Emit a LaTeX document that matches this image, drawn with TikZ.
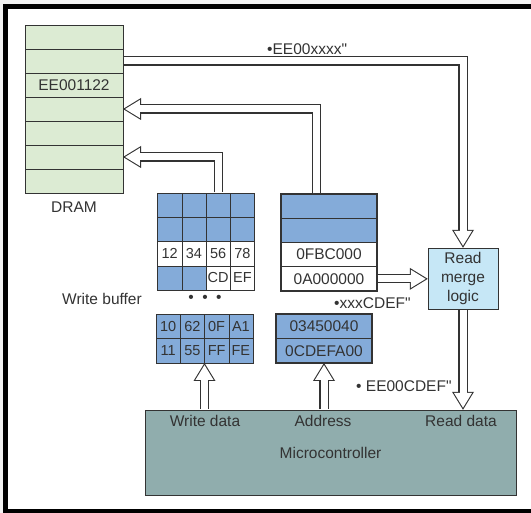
\documentclass[tikz,border=0pt]{standalone}
\usepackage{fontspec}
\setmainfont{Liberation Sans}
\usetikzlibrary{positioning,arrows.meta}

\definecolor{dramgreen}{HTML}{DCEBD3}
\definecolor{cellblue}{HTML}{84ABD9}
\definecolor{mergeblue}{HTML}{C6E7F6}
\definecolor{mcugray}{HTML}{90ADAD}
\definecolor{ink}{HTML}{333333}

\begin{document}
\begin{tikzpicture}[x=1pt, y=-1pt, node distance=0pt,
  every node/.style={text=ink, font=\fontsize{15.5}{18}\selectfont},
  row/.style={draw=ink, fill=dramgreen, minimum width=98pt, minimum height=24pt, inner sep=0pt, outer sep=0pt},
  cell/.style={draw=ink, fill=cellblue, minimum width=24.25pt, minimum height=24.25pt, inner sep=0pt, outer sep=0pt, font=\fontsize{14.5}{17}\selectfont},
  addr/.style={draw=ink, line width=1.3pt, fill=cellblue, minimum width=96pt, minimum height=24.25pt, inner sep=0pt, outer sep=0pt},
  lbl/.style={inner sep=0pt},
  % hollow double arrow: dark outline first, white core on top
  bus/.style={draw=ink, line width=9.2pt, shorten <=0.6pt,
    -{Triangle[length=18pt, width=22pt, line width=0pt]},
    postaction={draw=white, line width=7pt, shorten <=0.6pt, shorten >=2.1pt,
      -{Triangle[length=14.8pt, width=18.1pt, line width=0pt]}}}
]
\useasboundingbox (0,0) rectangle (531,513);
\clip (0,0) rectangle (531,513);
\fill[gray!10] (0,0) rectangle (531,513);
\draw[line width=5.5pt, fill=white] (5.5,6.5) rectangle (545,511.5);

% DRAM
\node[row] (dram1) at (74,37) {};
\node[row, below=of dram1] (dram2) {};
\node[row, below=of dram2] (dram3) {EE001122};
\node[row, below=of dram3] (dram4) {};
\node[row, below=of dram4] (dram5) {};
\node[row, below=of dram5] (dram6) {};
\node[row, below=of dram6] (dram7) {};
\node at (74,207) {DRAM};

% write buffer
\foreach \c in {1,...,4} {
  \node[cell] (wa1\c) at ({145.375+24.25*\c},205.1) {};
  \node[cell] (wa2\c) at ({145.375+24.25*\c},229.4) {};
}
\foreach \t [count=\c] in {12,34,56,78}
  \node[cell, fill=white] (wa3\c) at ({145.375+24.25*\c},253.6) {\t};
\node[cell] (wa41) at (169.6,277.9) {};
\node[cell] (wa42) at (193.9,277.9) {};
\node[cell, fill=white] (wa43) at (218.1,277.9) {CD};
\node[cell, fill=white] (wa44) at (242.4,277.9) {EF};
\node at (102,299) {Write buffer};
\node at (205,299) {\textbullet\hspace{8.5pt}\textbullet\hspace{8.5pt}\textbullet};
\foreach \t [count=\c] in {10,62,0F,A1}
  \node[cell, minimum height=24.5pt] (wb1\c) at ({143.875+24.25*\c},326.25) {\t};
\foreach \t [count=\c] in {11,55,FF,FE}
  \node[cell, minimum height=24.5pt] (wb2\c) at ({143.875+24.25*\c},350.75) {\t};

% address buffer
\node[addr] (ab1) at (329,206.1) {};
\node[addr, below=of ab1] (ab2) {};
\node[addr, below=of ab2, fill=white] (ab3) {0FBC000};
\node[addr, below=of ab3, fill=white] (ab4) {0A000000};
\node[addr, minimum height=24.5pt] (ad1) at (324,326.25) {03450040};
\node[addr, minimum height=24.5pt, below=of ad1] (ad2) {0CDEFA00};

% merge logic and controller
\node[draw=ink, fill=mergeblue, minimum width=70pt, minimum height=61pt, inner sep=0pt,
  align=center, font=\fontsize{15.5}{19}\selectfont] (merge) at (463,278.5) {Read\\merge\\logic};
\node[draw=ink, fill=mcugray, minimum width=371pt, minimum height=85pt, inner sep=0pt] (mcu) at (330.5,452.5) {Microcontroller};
\node at (205,421) {Write data};
\node at (323,421) {Address};
\node at (461,421) {Read data};

% buses
\draw[bus] (dram2.east) -| (merge.north);
\draw[bus] ([xshift=-12.5pt]ab1.north) |- (dram4.east);
\draw[bus] (wa13.north) |- (dram6.east);
\draw[bus] (ab4.east) -- (merge.west |- ab4.east);
\draw[bus] (merge.south) -- (merge.south |- mcu.north);
\draw[bus] (mcu.north -| wb22.south east) -- (wb22.south east);
\draw[bus] (mcu.north -| ad2.south) -- (ad2.south);

\node[lbl, anchor=west] at (267,49) {•EE00xxxx\textquotedbl};
\node[lbl, anchor=west] at (334,303) {•xxxCDEF\textquotedbl};
\node[lbl, anchor=west] at (356,386) {• EE00CDEF\textquotedbl};
\end{tikzpicture}
\end{document}
